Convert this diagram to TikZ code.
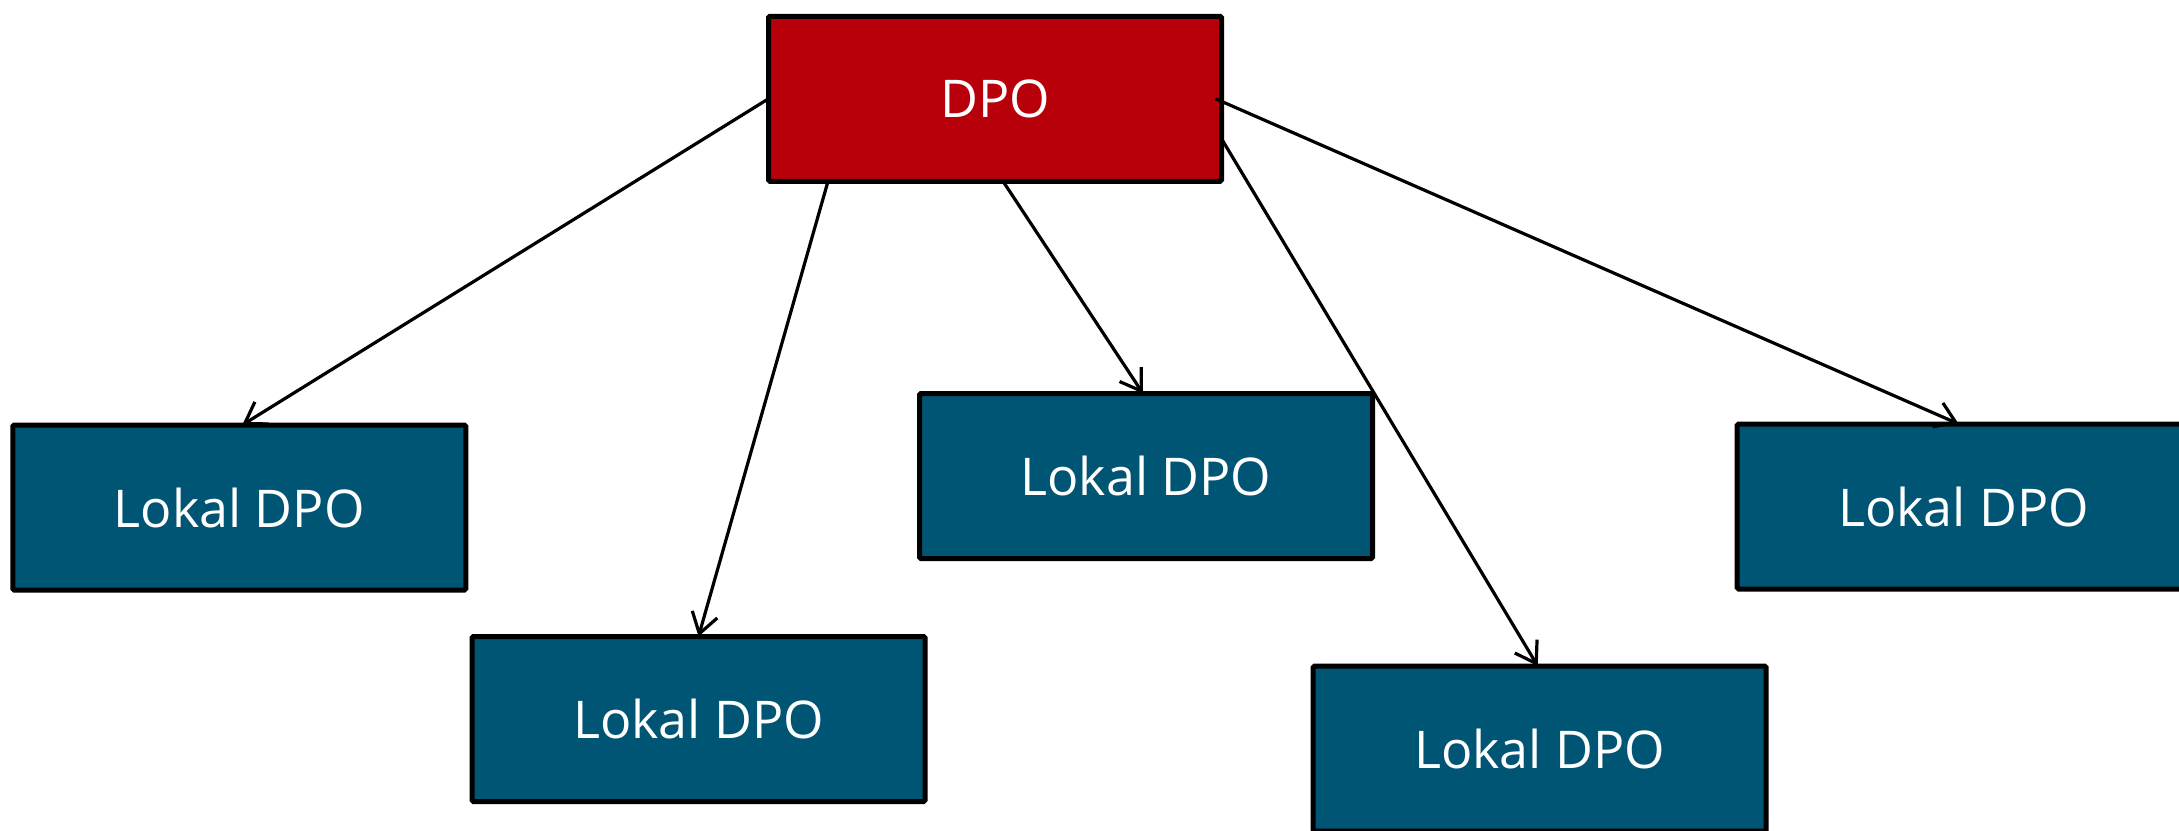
\documentclass[tikz,border=0pt]{standalone}
\usepackage{fontspec}
\setmainfont{Open Sans}
\usetikzlibrary{arrows.meta}
\definecolor{dpored}{HTML}{B7000A}
\definecolor{lokalblue}{HTML}{005574}
\tikzset{
  boxbase/.style={draw=black, line width=5pt, rounded corners=1.5pt,
    minimum width=453pt, minimum height=165pt, inner sep=0pt, outer sep=0pt,
    text=white, font=\fontsize{52}{58}\selectfont},
  mainbox/.style={boxbase, fill=dpored},
  lokalbox/.style={boxbase, fill=lokalblue},
  link/.style={line width=3.2pt, -{Straight Barb[length=20pt,width=26pt,line width=3.2pt]}}
}
\begin{document}
\begin{tikzpicture}[x=1pt,y=-1pt]
  \useasboundingbox (0,0) rectangle (2179,830);
  \fill[white] (0,0) rectangle (2179,830);

  \node[mainbox]  (dpo) at (995,98.75)   {DPO};
  \node[lokalbox] (l1)  at (239.25,507.5) {Lokal DPO};
  \node[lokalbox] (l2)  at (698.5,719)    {Lokal DPO};
  \node[lokalbox] (l3)  at (1146,476)     {Lokal DPO};
  \node[lokalbox] (l4)  at (1539.7,748.5) {Lokal DPO};
  \node[lokalbox] (l5)  at (1963.7,506.5) {Lokal DPO};

  \draw[link] (dpo.west) -- ([xshift=3pt]l1.north);
  \draw[link] ([xshift=-167pt]dpo.south) -- (l2.north);
  \draw[link] ([xshift=8pt]dpo.south) -- ([xshift=-3pt]l3.north);
  \draw[link] ([yshift=-40pt]dpo.east) -- ([xshift=-2pt]l4.north);
  \draw[link] ([xshift=-6pt]dpo.east) -- ([xshift=-5pt]l5.north);
\end{tikzpicture}
\end{document}
